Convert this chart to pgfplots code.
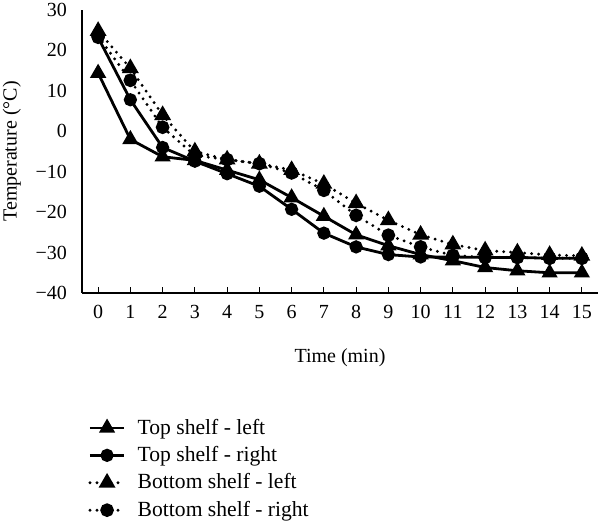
\documentclass[border=0pt]{standalone}
\usepackage{fontspec}
\setmainfont{Liberation Serif}
\usepackage{pgfplots}
\pgfplotsset{compat=1.18}
\begin{document}
\begin{tikzpicture}
\path[use as bounding box] (0,0) rectangle (300pt,261.5pt);
\begin{axis}[
  at={(41pt,115pt)}, anchor=south west,
  scale only axis, width=258pt, height=141.5pt,
  xmin=-0.5, xmax=15.5, ymin=-40, ymax=30,
  axis x line=bottom, axis y line=left,
  axis line style={-, line width=0.7pt},
  xtick={0,...,15},
  ytick={-40,-30,-20,-10,0,10,20,30},
  yticklabels={−40,−30,−20,−10,0,10,20,30},
  xticklabels={0,1,2,3,4,5,6,7,8,9,10,11,12,13,14,15},
  tick align=inside, major tick length=3pt,
  x tick style={line width=0.6pt, black},
  y tick style={draw=none},
  tick label style={font=\fontsize{10}{12}\selectfont},
  xticklabel style={yshift=-2.7pt},
  yticklabel style={xshift=-4pt},
  xlabel={Time (min)}, ylabel={Temperature (°C)},
  label style={font=\fontsize{11}{13}\selectfont},
  every axis x label/.style={at={(axis description cs:0.5,-0.228)}, anchor=center},
  every axis y label/.style={at={(axis description cs:-0.136,0.5)}, rotate=90, anchor=center},
  legend style={draw=none, fill=none, at={(axis description cs:0.0,-0.415)}, anchor=north west,
    font=\fontsize{10.8}{13}\selectfont, row sep=0.6pt},
  legend cell align=left,
  clip=false,
]
\addplot[black, line width=1.4pt, mark=triangle*, mark size=3.3pt, mark options={solid}] coordinates {
(0,14.4) (1,-2) (2,-6.3) (3,-7.2) (4,-9.6) (5,-12) (6,-16.4) (7,-21) (8,-25.6) (9,-28.3) (10,-30.5) (11,-32) (12,-33.7) (13,-34.5) (14,-35) (15,-35)};
\addlegendentry{\hspace{4pt}Top shelf - left}
\addplot[black, line width=1.4pt, mark=*, mark size=2.6pt, mark options={solid}] coordinates {
(0,23.2) (1,7.8) (2,-4) (3,-7.4) (4,-10.5) (5,-13.6) (6,-19.3) (7,-25.2) (8,-28.6) (9,-30.5) (10,-31.1) (11,-31.1) (12,-31.2) (13,-31.2) (14,-31.4) (15,-31.4)};
\addlegendentry{\hspace{4pt}Top shelf - right}
\addplot[black, line width=1.6pt, dash pattern=on 0pt off 3.5pt, line cap=round, mark=triangle*, mark size=3.3pt, mark options={solid}] coordinates {
(0,24.8) (1,15.6) (2,4) (3,-5) (4,-7) (5,-8) (6,-9.6) (7,-13) (8,-17.8) (9,-22) (10,-25.6) (11,-28) (12,-29.5) (13,-30) (14,-30.6) (15,-30.8)};
\addlegendentry{\hspace{4pt}Bottom shelf - left}
\addplot[black, line width=1.6pt, dash pattern=on 0pt off 3.5pt, line cap=round, mark=*, mark size=2.6pt, mark options={solid}] coordinates {
(0,23.5) (1,12.6) (2,1) (3,-6) (4,-7) (5,-8) (6,-10.3) (7,-14.6) (8,-20.8) (9,-25.7) (10,-28.6) (11,-30.7) (12,-31.2) (13,-31.2) (14,-31.4) (15,-31.4)};
\addlegendentry{\hspace{4pt}Bottom shelf - right}
\end{axis}
\end{tikzpicture}
\end{document}
